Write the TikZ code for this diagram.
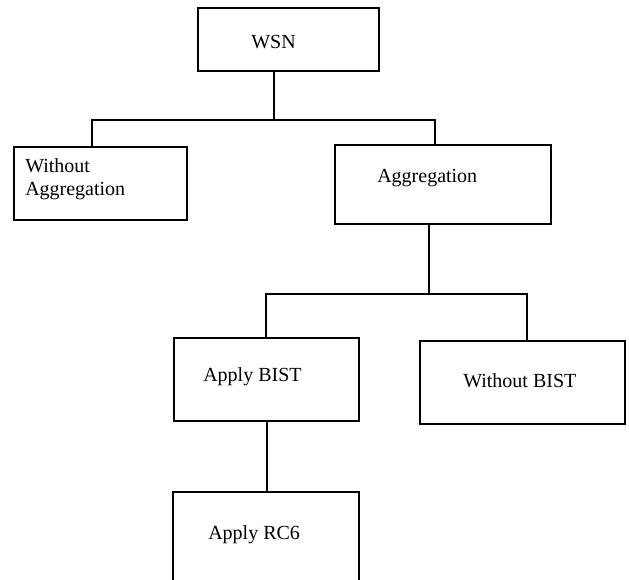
\documentclass[tikz,border=0pt]{standalone}
\usepackage{fontspec}
\setmainfont{Liberation Serif}
\usepackage{tikz}
\usetikzlibrary{positioning}
\usetikzlibrary{fit}
\tikzset {
  x=0.75pt, y=-0.75pt,
  % boxes of the tree
  box/.style = {draw, rectangle, inner sep=0pt, line width=0.9pt},
  % text inside the boxes
  txt/.style = {anchor=base west, inner sep=0pt, font=\fontsize{15}{18}\selectfont},
  % lines between the boxes
  link/.style = {line width=0.9pt},
}

\begin{document}
\begin{tikzpicture}
      \useasboundingbox (0,0) rectangle (629,579);

      \node[box, fit={(198,8) (379,71)}] (wsn) {};
      \node[box, fit={(14,147) (187,220)}] (noagg) {};
      \node[box, fit={(335,145) (551,224)}] (agg) {};
      \node[box, fit={(174,338) (359,421)}] (bist) {};
      \node[box, fit={(420,341) (625,424)}] (nobist) {};
      \node[box, fit={(173,492) (359,600)}] (rc6) {};

      \node[txt] (wsntxt) at (251,48) {WSN};
      \node[txt] (noaggtxt) at (25,172) {Without};
      \node[txt] (noaggtxt2) at (25,195) {Aggregation};
      \node[txt] (aggtxt) at (377,182) {Aggregation};
      \node[txt] (bisttxt) at (203,381) {Apply BIST};
      \node[txt] (nobisttxt) at (463,387) {Without BIST};
      \node[txt] (rc6txt) at (208,539) {Apply RC6};

      \coordinate (top) at (274,120);
      \coordinate (busL) at (92,120);
      \coordinate (busR) at (435,120);
      \coordinate (mid) at (429,294);
      \coordinate (busL2) at (266,294);
      \coordinate (busR2) at (527,294);
      \coordinate (down) at (267,456);

      \draw [link] (wsn.south -| top) -- (top);
      \draw [link] (noagg.north -| busL) -- (busL) -- (busR) -- (agg.north -| busR);
      \draw [link] (agg.south -| mid) -- (mid);
      \draw [link] (bist.north -| busL2) -- (busL2) -- (busR2) -- (nobist.north -| busR2);
      \draw [link] (bist.south -| down) -- (rc6.north -| down);
    \end{tikzpicture}
\end{document}
